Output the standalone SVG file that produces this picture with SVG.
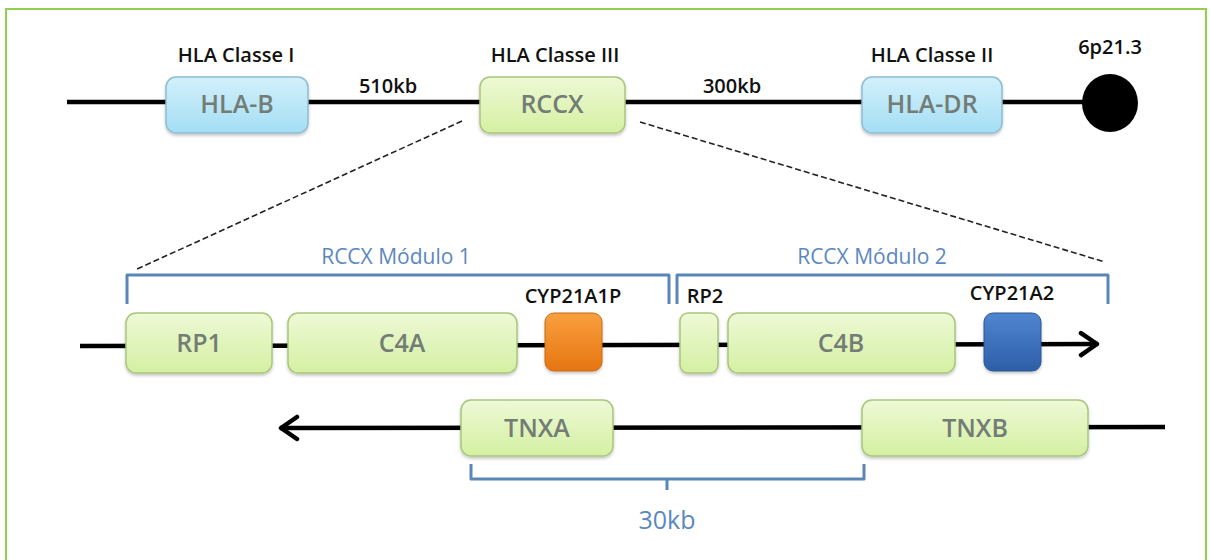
<svg xmlns="http://www.w3.org/2000/svg" width="1211" height="560" viewBox="0 0 1211 560">
<defs>
<linearGradient id="gBlue" x1="0" y1="0" x2="0" y2="1"><stop offset="0" stop-color="#d2f0fb"/><stop offset="1" stop-color="#a4def4"/></linearGradient>
<linearGradient id="gGreen" x1="0" y1="0" x2="0" y2="1"><stop offset="0" stop-color="#eef9d6"/><stop offset="1" stop-color="#d4f0a2"/></linearGradient>
<linearGradient id="gOrange" x1="0" y1="0" x2="0" y2="1"><stop offset="0" stop-color="#f9a03f"/><stop offset="1" stop-color="#e67510"/></linearGradient>
<linearGradient id="gDBlue" x1="0" y1="0" x2="0" y2="1"><stop offset="0" stop-color="#4f86cf"/><stop offset="1" stop-color="#2c5fa8"/></linearGradient>
<filter id="sh" x="-10%" y="-10%" width="120%" height="130%"><feDropShadow dx="0" dy="2" stdDeviation="1.5" flood-color="#000" flood-opacity="0.22"/></filter>
<marker id="arr" viewBox="0 0 24 28" refX="21" refY="14" markerWidth="24" markerHeight="28" orient="auto-start-reverse" markerUnits="userSpaceOnUse">
<path d="M4,3 L20,14 L4,25" fill="none" stroke="#000" stroke-width="4.5" stroke-linecap="round" stroke-linejoin="round"/>
</marker>
</defs>
<style>
.blue{fill:url(#gBlue);stroke:#8fbdd3;stroke-width:1.5;filter:url(#sh)}
.green{fill:url(#gGreen);stroke:#a8c67c;stroke-width:1.5;filter:url(#sh)}
.sq{filter:url(#sh)}
.lbl{font-family:"Open Sans","Liberation Sans",sans-serif;font-size:25px;font-weight:600;fill:#737d76;text-anchor:middle}
.head{font-family:"Open Sans","Liberation Sans",sans-serif;font-size:20px;font-weight:600;fill:#111;text-anchor:middle}
.mod{font-family:"Open Sans","Liberation Sans",sans-serif;font-size:21px;font-weight:500;fill:#5b88c0;text-anchor:middle}
.chrom{stroke:#000;stroke-width:4.5;fill:none}
.brk{stroke:#5b87b8;stroke-width:3;fill:none;stroke-linejoin:round}
.dash{stroke:#222;stroke-width:1.6;stroke-dasharray:6,3;fill:none}
</style>
<rect x="0" y="0" width="1211" height="560" fill="#fff"/>
<rect x="6" y="9" width="1200" height="560" fill="none" stroke="#92d050" stroke-width="2"/>

<g id="connectors">
<line class="chrom" x1="67" y1="102" x2="1100" y2="102"/>
<line class="dash" x1="462" y1="121" x2="135" y2="270"/>
<line class="dash" x1="640" y1="122" x2="1105" y2="262"/>
<line class="chrom" x1="80" y1="346" x2="1098" y2="344" stroke-width="4" marker-end="url(#arr)"/>
<line class="chrom" x1="1165" y1="427" x2="280" y2="428" stroke-width="4" marker-end="url(#arr)"/>
</g>

<g id="hla-b"><text class="head" x="236" y="62">HLA Classe I</text><rect class="blue" x="166" y="77" width="142" height="56" rx="10"/><text class="lbl" x="237" y="113">HLA-B</text></g>
<text class="head" x="388" y="93">510kb</text>
<g id="rccx"><text class="head" x="555" y="62">HLA Classe III</text><rect class="green" x="480" y="77" width="145" height="56" rx="10"/><text class="lbl" x="552" y="113">RCCX</text></g>
<text class="head" x="732" y="93">300kb</text>
<g id="hla-dr"><text class="head" x="932" y="62">HLA Classe II</text><rect class="blue" x="862" y="77" width="140" height="56" rx="10"/><text class="lbl" x="932" y="113">HLA-DR</text></g>
<g id="centromere"><text class="head" x="1110" y="54">6p21.3</text><ellipse cx="1110" cy="103" rx="28" ry="29" fill="#000"/></g>

<g id="module1"><path class="brk" d="M127,304 V275 H669 V304"/><text class="mod" x="396" y="264">RCCX Módulo 1</text></g>
<g id="module2"><path class="brk" d="M677,304 V275 H1108 V304"/><text class="mod" x="872" y="264">RCCX Módulo 2</text></g>

<g id="rp1"><rect class="green" x="126" y="313" width="146" height="60" rx="10"/><text class="lbl" x="199" y="352">RP1</text></g>
<g id="c4a"><rect class="green" x="288" y="313" width="229" height="60" rx="10"/><text class="lbl" x="402" y="352">C4A</text></g>
<g id="cyp21a1p"><text class="head" x="573" y="303">CYP21A1P</text><rect class="sq" x="545" y="313" width="57" height="58" rx="9" fill="url(#gOrange)" stroke="#c86a14" stroke-width="1"/></g>
<g id="rp2"><text class="head" x="705" y="303">RP2</text><rect class="green" x="680" y="313" width="38" height="60" rx="8"/></g>
<g id="c4b"><rect class="green" x="728" y="313" width="227" height="60" rx="10"/><text class="lbl" x="841" y="352">C4B</text></g>
<g id="cyp21a2"><text class="head" x="1012" y="300">CYP21A2</text><rect class="sq" x="984" y="313" width="57" height="58" rx="9" fill="url(#gDBlue)" stroke="#2a578f" stroke-width="1"/></g>

<g id="tnxa"><rect class="green" x="461" y="400" width="152" height="56" rx="10"/><text class="lbl" x="537" y="437">TNXA</text></g>
<g id="tnxb"><rect class="green" x="862" y="400" width="226" height="56" rx="10"/><text class="lbl" x="975" y="437">TNXB</text></g>
<g id="span30"><path class="brk" d="M471,464 V479 H864 V464 M667,479 V490"/><text class="mod" x="667" y="529" style="font-size:25px">30kb</text></g>
</svg>
